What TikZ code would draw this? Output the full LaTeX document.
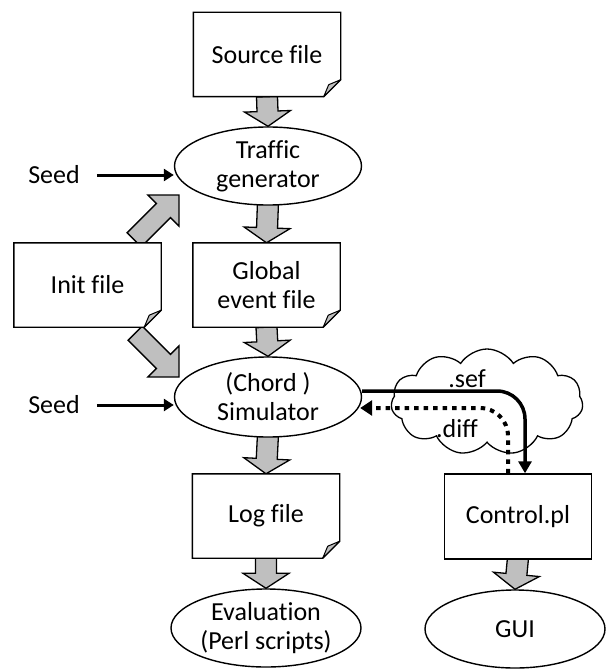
\documentclass[tikz,border=0pt]{standalone}
\usepackage{fontspec}
\setmainfont[Ligatures=NoCommon]{Carlito}
\usetikzlibrary{calc,shapes.geometric,shapes.symbols,arrows.meta}
\pgfdeclarelayer{bg}
\pgfsetlayers{bg,main}
\definecolor{blockgray}{HTML}{BFBFBF}

% Thick gray block arrow: #1 start, #2 tip, #3 shaft half width,
% #4 head half width, #5 head length
\newcommand\fatarrow[5]{%
  \filldraw[fill=blockgray, draw=black, line width=1.3pt, line join=miter]
    ($(#1)!#3!90:(#2)$) -- ($(#2)!#5!(#1)!#3!90:(#2)$) --
    ($(#2)!#5!(#1)!#4!90:(#2)$) -- (#2) --
    ($(#2)!#5!(#1)!#4!-90:(#2)$) -- ($(#2)!#5!(#1)!#3!-90:(#2)$) --
    ($(#1)!#3!-90:(#2)$) -- cycle;}

% Document outline with a folded bottom-right corner
\newcommand\docframe[1]{%
  \draw[line width=1.4pt, line join=miter]
    (#1.north west) -- (#1.north east) -- ($(#1.south east)+(0,-17)$) --
    ($(#1.south east)+(-17,0)$) -- (#1.south west) -- cycle;
  \filldraw[fill=blockgray, line width=1pt, line join=round]
    ($(#1.south east)+(0,-17)$) -- ($(#1.south east)+(-12,-12)$) --
    ($(#1.south east)+(-17,0)$) -- cycle;}

\tikzset{
  every node/.style={font=\fontsize{26}{29}\selectfont, align=center, inner sep=0pt},
  doc/.style={fill=white, minimum width=147pt, minimum height=84pt},
  plainbox/.style={draw, line width=1.4pt, fill=white, minimum width=147pt, minimum height=85pt},
  oval/.style={ellipse, draw, line width=1.4pt, fill=white, minimum width=187pt, minimum height=78pt},
  seedarrow/.style={line width=3pt, -{Triangle[length=10pt,width=12pt]}},
  sefline/.style={line width=3.5pt, rounded corners=28pt, -{Triangle[length=12pt,width=13pt]}},
  diffline/.style={line width=4pt, dash pattern=on 4.5pt off 5pt, rounded corners=28pt,
    -{Triangle[length=12pt,width=15pt]}},
}

\begin{document}
\begin{tikzpicture}[x=1pt, y=-1pt]
\useasboundingbox (0,0) rectangle (605,671);

% the message cloud between simulator and controller
\node[cloud, draw, line width=1.3pt, fill=white, cloud puffs=11, cloud puff arc=115,
      aspect=1.8, minimum width=192pt, minimum height=106pt] (cl) at (487,402) {};

% main column
\node[doc] (src) at (267,54.5) {Source file};
\node[oval] (tg) at (268,166) {Traffic\\generator};
\node[doc] (gef) at (266.5,285) {Global\\event file};
\node[doc] (init) at (87.5,285) {Init file};
\node[oval, minimum height=80pt] (sim) at (268,397) {(Chord )\\Simulator};
\node[doc] (log) at (266,516) {Log file};
\node[oval, minimum width=190pt] (eval) at (266,628) {Evaluation\\(Perl scripts)};

% controller column
\node[plainbox] (ctrl) at (518,516.5) {Control.pl};
\node[oval, minimum width=180pt] (gui) at (515,629) {GUI};

\docframe{src}
\docframe{gef}
\docframe{init}
\docframe{log}

% seeds
\node (s1) at (54,175) {Seed};
\node (s2) at (54,405) {Seed};
\draw[seedarrow, shorten <=17pt] (s1.east) -- (s1.east -| tg.west);
\draw[seedarrow, shorten <=17pt] (s2.east) -- (s2.east -| sim.west);

% block arrow end points
\coordinate (a1) at ($(tg.south)+(0,-4)$);
\coordinate (a2) at ($(sim.south)+(0,-4)$);
\coordinate (a3) at ($(ctrl.south)+(0,-2)$);
\coordinate (iu0) at ($(init.north east)+(-27,-3)$);
\coordinate (iu1) at (179,195);
\coordinate (id0) at ($(init.south east)+(-26,6)$);
\coordinate (id1) at (179,377);

\begin{pgfonlayer}{bg}
  \fatarrow{src.south}{tg.north}{10.5pt}{23pt}{15pt}
  \fatarrow{a1}{gef.north}{10.5pt}{23pt}{15pt}
  \fatarrow{gef.south}{sim.north}{10.5pt}{23pt}{15pt}
  \fatarrow{a2}{log.north}{10.5pt}{23pt}{15pt}
  \fatarrow{log.south}{eval.north}{10.5pt}{23pt}{15pt}
  \fatarrow{a3}{gui.north}{10.5pt}{23pt}{15pt}
  \fatarrow{iu0}{iu1}{10pt}{22pt}{22pt}
  \fatarrow{id0}{id1}{10pt}{22pt}{22pt}
\end{pgfonlayer}

% exchange between simulator and Control.pl
\coordinate (sefS) at ($(sim.east)+(0,-6)$);
\coordinate (sefE) at ($(ctrl.north)+(7,0)$);
\coordinate (difS) at ($(ctrl.north)+(-10,0)$);
\coordinate (difE) at ($(sim.east)+(-2,11)$);
\draw[sefline] (sefS) -| (sefE);
\draw[diffline] (difS) |- (difE);
\node[anchor=base] (sef) at (467,387) {.sef};
\node[anchor=base] (dif) at (457,437) {.diff};
\end{tikzpicture}
\end{document}
